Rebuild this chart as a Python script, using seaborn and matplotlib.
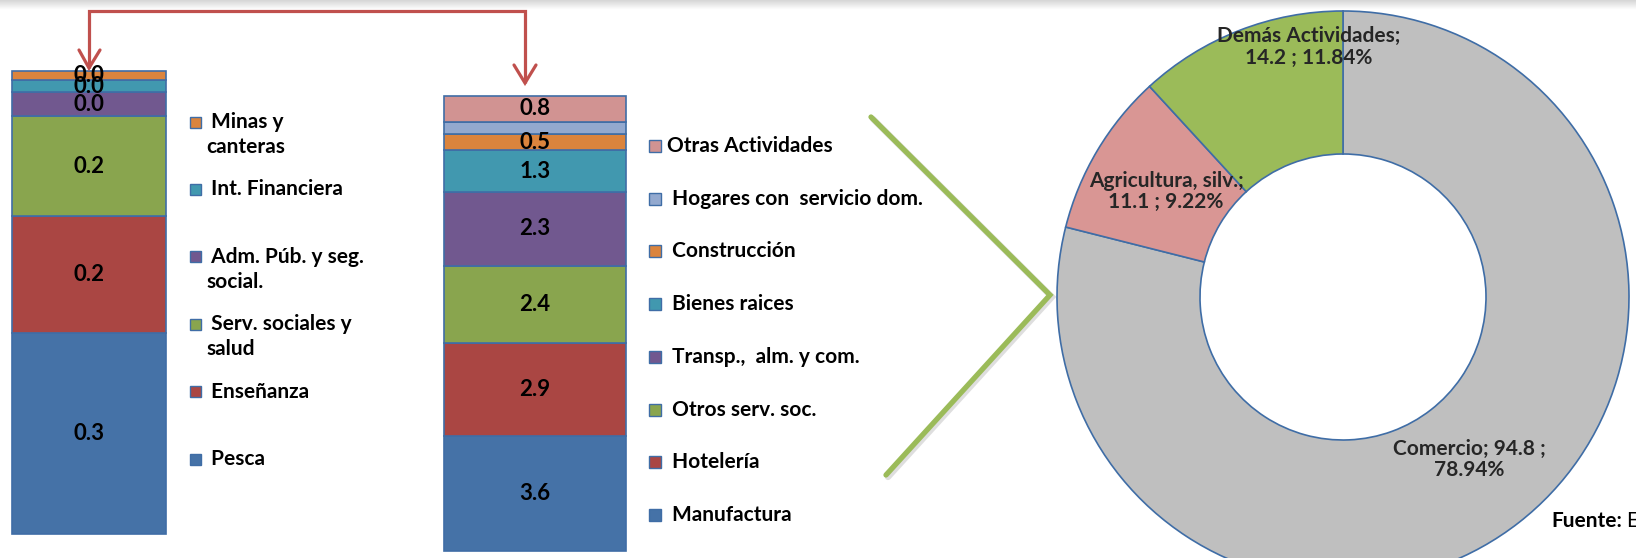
import numpy as np
import pandas as pd
import matplotlib
matplotlib.use("Agg")
import matplotlib.pyplot as plt
from matplotlib.patches import Rectangle
import seaborn as sns

# ---------------- data ----------------
# Left stacked bar (breakdown of "Otras Actividades"), listed top -> bottom
left_sectors = ["Minas y canteras", "Int. Financiera", "Adm. Púb. y seg. social.",
                "Serv. sociales y salud", "Enseñanza", "Pesca"]
left_values = [0.015, 0.020, 0.040, 0.166, 0.195, 0.334]
left_legend = [" Minas y\ncanteras", " Int. Financiera", " Adm. Púb. y seg.\nsocial.",
               " Serv. sociales y\nsalud", " Enseñanza", " Pesca"]
left_colors = ["#DB843D", "#4198AF", "#71588F", "#89A54E", "#AA4643", "#4572A7"]

# Middle stacked bar (breakdown of "Demás Actividades"), listed top -> bottom
mid_sectors = ["Otras Actividades", "Hogares con servicio dom.", "Construcción",
               "Bienes raices", "Transp., alm. y com.", "Otros serv. soc.",
               "Hotelería", "Manufactura"]
mid_values = [0.8, 0.4, 0.5, 1.3, 2.3, 2.4, 2.9, 3.6]
mid_show_label = [True, False, True, True, True, True, True, True]
mid_legend = ["Otras Actividades", " Hogares con  servicio dom.", " Construcción",
              " Bienes raices", " Transp.,  alm. y com.", " Otros serv. soc.",
              " Hotelería", " Manufactura"]
mid_colors = ["#D19392", "#93A9CF", "#DB843D", "#4198AF", "#71588F", "#89A54E",
              "#AA4643", "#4572A7"]

# Donut
donut_names = ["Comercio", "Agricultura, silv.", "Demás Actividades"]
donut_values = [94.8, 11.1, 14.2]
donut_pcts = [78.94, 9.22, 11.84]
donut_break_after_name = [False, True, True]
donut_colors = ["#BFBFBF", "#D99694", "#9BBB59"]

# ---------------- styling ----------------
sns.set_theme(style="white")
plt.rcParams["font.family"] = ["Lato", "DejaVu Sans"]

W, H = 1636, 558
fig = plt.figure(figsize=(W / 100, H / 100), dpi=100, facecolor="white")

EDGE = "#3F6DA6"
FS = 15
FS_BAR = 16


def px_axes(x0, y0, x1, y1, **kw):
    return fig.add_axes([x0 / W, 1 - y1 / H, (x1 - x0) / W, (y1 - y0) / H], **kw)


def stacked_bar(ax, sectors, values, colors, show=None):
    df = pd.DataFrame({"pos": 0, "sector": sectors, "value": values})
    sns.histplot(data=df, x="pos", weights="value", hue="sector", hue_order=sectors,
                 palette=dict(zip(sectors, colors)), multiple="stack", discrete=True,
                 shrink=1, alpha=1, edgecolor=EDGE, linewidth=1.2, legend=False, ax=ax)
    ax.set_xlim(-0.5, 0.5)
    ax.set_ylim(0, sum(values))
    ax.axis("off")
    for p in ax.patches:
        p.set_clip_on(False)
    # labels (bottom -> top)
    vals_bu = list(values)[::-1]
    show_bu = (show if show is not None else [True] * len(values))[::-1]
    tops = np.cumsum(vals_bu)
    for v, t, s in zip(vals_bu, tops, show_bu):
        if s:
            ax.text(0, t - v / 2, f"{v:.1f}", ha="center", va="center",
                    fontsize=FS_BAR, fontweight="bold", color="black")


ax_l = px_axes(12, 71, 166, 534)
stacked_bar(ax_l, left_sectors, left_values, left_colors)

ax_m = px_axes(444, 96, 626, 551)
stacked_bar(ax_m, mid_sectors, mid_values, mid_colors, mid_show_label)

# Donut
ax_d = px_axes(1057, 11, 1629, 583)
labels = []
for n, v, p, br in zip(donut_names, donut_values, donut_pcts, donut_break_after_name):
    if br:
        labels.append(f"{n};\n{v} ; {p:.2f}%")
    else:
        labels.append(f"{n}; {v} ;\n{p:.2f}%")
wedges, texts = ax_d.pie(donut_values, colors=donut_colors, startangle=90,
                         counterclock=False, labels=labels, labeldistance=0.72,
                         wedgeprops=dict(width=0.5, edgecolor=EDGE, linewidth=1.2),
                         textprops=dict(fontsize=FS, fontweight="bold", ha="center",
                                        va="center", linespacing=1.1))
texts[2].set_position((-0.119, 0.874))
ax_d.set_aspect("auto")
ax_d.set_xlim(-1, 1)
ax_d.set_ylim(-1, 1)
ax_d.axis("off")

# ---------------- overlay: legends, arrows, decorations ----------------
ax_o = fig.add_axes([0, 0, 1, 1], zorder=5)
ax_o.patch.set_alpha(0)
ax_o.imshow(np.linspace(0.84, 1.0, 12)[:, None], cmap="gray", vmin=0, vmax=1,
            extent=[0, W, 10, 0], aspect="auto", zorder=0)
ax_o.set_xlim(0, W)
ax_o.set_ylim(H, 0)
ax_o.axis("off")

# left legend
for i, (lab, c) in enumerate(zip(left_legend, left_colors)):
    y = 122 + i * 67.4
    ax_o.add_patch(Rectangle((190, y - 5.5), 11, 11, facecolor=c, edgecolor=EDGE, lw=1))
    for k, line in enumerate(lab.split("\n")):
        ax_o.text(206, y + k * 25, line, ha="left", va="center", fontsize=FS,
                  fontweight="bold", color="black")

# middle legend
for i, (lab, c) in enumerate(zip(mid_legend, mid_colors)):
    y = 146 + i * 52.7
    ax_o.add_patch(Rectangle((649, y - 6), 12, 12, facecolor=c, edgecolor=EDGE, lw=1))
    ax_o.text(667, y, lab, ha="left", va="center", fontsize=FS,
              fontweight="bold", color="black")

# red connector arrow
red = "#C0504D"
ax_o.plot([89, 89, 525, 525], [68, 11, 11, 83], color=red, lw=2.3,
          solid_joinstyle="miter", solid_capstyle="butt")
ax_o.plot([79, 89, 100], [50, 68, 50], color=red, lw=2.3, solid_joinstyle="miter")
ax_o.plot([514, 525, 536], [65, 83, 65], color=red, lw=2.3, solid_joinstyle="miter")

# green chevron with soft shadow
gx = [871, 1050, 886]
gy = [117, 295, 475]
ax_o.plot([x + 2 for x in gx], [y + 2 for y in gy], color="#7F7F7F", alpha=0.25,
          lw=4.5, solid_joinstyle="miter")
ax_o.plot(gx, gy, color="#9BBB59", lw=3.8, solid_joinstyle="miter")

# source note
fu = ax_o.text(1551, 521, "Fuente:", ha="left", va="center", fontsize=FS,
               fontweight="bold", color="black")
ax_o.annotate("E", xy=(1, 0.5), xycoords=fu, xytext=(3, 0), textcoords="offset points",
              ha="left", va="center", fontsize=FS, color="black")

fig.savefig("out.png", dpi=100, facecolor="white")
